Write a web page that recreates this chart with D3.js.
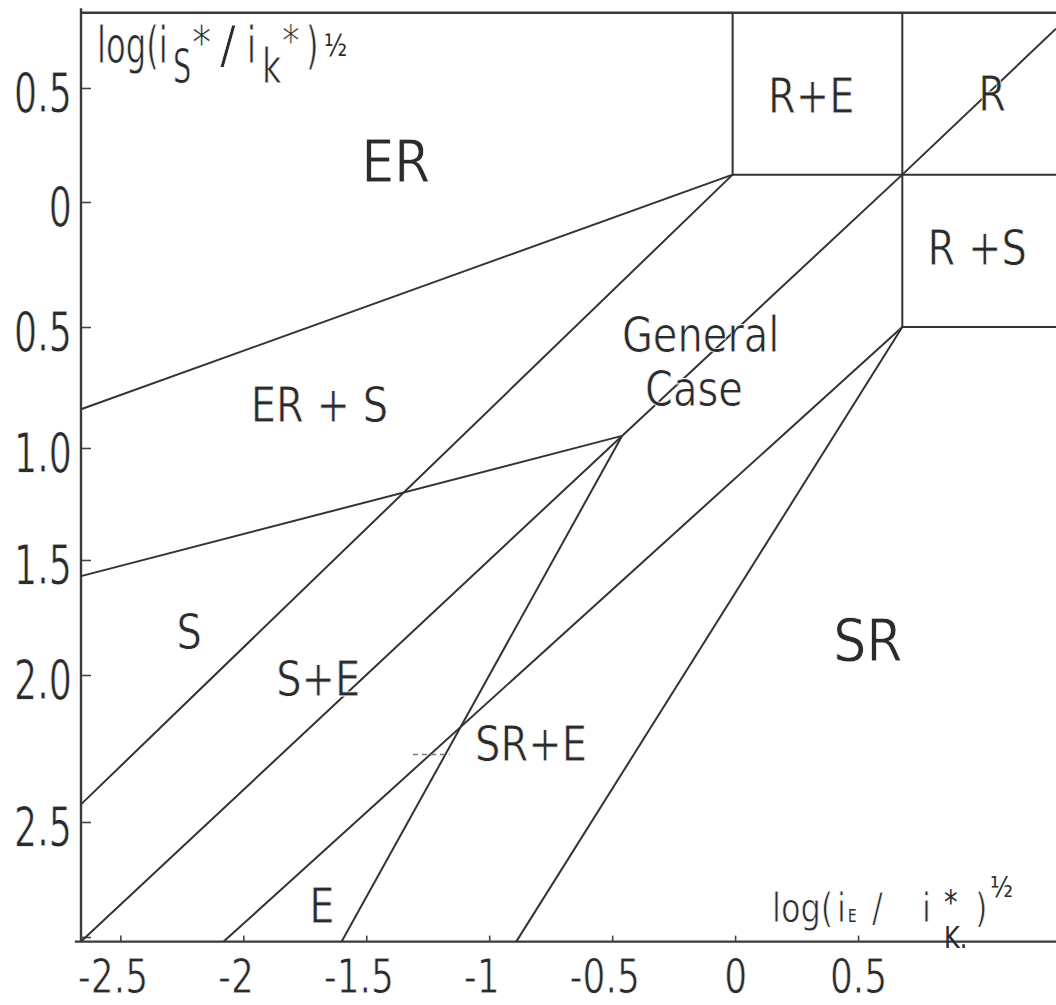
<!DOCTYPE html>
<html>
<head>
<meta charset="utf-8">
<script src="https://cdn.jsdelivr.net/npm/d3@7"></script>
<style>
  body { margin: 0; background: #fff; }
  svg { display: block; }
  text { font-family: "DejaVu Sans", sans-serif; fill: #2b2b2b; }
  text.thin { stroke: #fff; stroke-width: 0.8px; }
</style>
</head>
<body>
<div id="holder"></div>
<script>
// tick values as printed on the scanned diagram (y minus signs were lost in the print)
var xTicks = [-2.5, -2, -1.5, -1, -0.5, 0, 0.5];
var xTickLabels = ['-2.5', '-2', '-1.5', '-1', '-0.5', '0', '0.5'];
var yTicks = [0.5, 0, -0.5, -1, -1.5, -2, -2.5, -3];
var yTickLabels = ['0.5', '0', '0.5', '1.0', '1.5', '2.0', '2.5', ''];

var xMin = -2.66, xMax = 1.305, yTop = 0.83, yBottom = -3.02;

// region boundaries as [log(iE/ik), log(iS/ik)] points
var lineER = [[-2.66, -0.84], [-0.01, 0.12]];
var lineERS = [[-2.66, -1.57], [-0.46, -0.95]];
var lineSE = [[-2.66, -2.44], [-0.01, 0.12]];
var lineDiag = [[-2.66, -3.02], [-0.46, -0.95], [0.68, 0.12], [1.305, 0.76]];
var lineSRE = [[-2.08, -3.02], [0.68, -0.5]];
var lineE = [[-1.6, -3.02], [-0.46, -0.95]];
var lineSR = [[-0.89, -3.02], [0.68, -0.5]];
var boxRE = [[-0.01, 0.83], [-0.01, 0.12], [1.305, 0.12]];
var boxRS = [[0.68, 0.83], [0.68, -0.5], [1.305, -0.5]];
// small stray mark left of SR+E
var strayMark = [[-1.31, -2.27], [-1.16, -2.27]];

var regionNames = ['ER', 'R+E', 'R', 'R +S', 'General', 'Case', 'ER + S', 'S', 'S+E', 'SR+E', 'SR', 'E'];
var regionX = [-1.38, 0.31, 1.045, 0.985, -0.14, -0.167, -1.69, -2.22, -1.695, -0.83, 0.54, -1.68];
var regionY = [0.18, 0.47, 0.48, -0.18, -0.53, -0.75, -0.82, -1.81, -2.01, -2.23, -1.85, -2.86];
var regionBig = ['ER', 'SR'];

var svg = d3.select('#holder').append('svg').attr('width', 1056).attr('height', 1005);

var x = d3.scaleLinear().domain([xMin, xMax]).range([81, 1056]);
// the hand-drawn y axis has uneven tick spacing, so map through every tick
var y = d3.scaleLinear().domain(yTicks).range([88, 202, 327, 448, 560, 675, 822, 937]);

var line = d3.line().x(function(d) { return x(d[0]); }).y(function(d) { return y(d[1]); });

function label(g, str, px, py, size, sx, anchor) {
  return g.append('text')
    .attr('class', size >= 36 ? 'thin' : null)
    .attr('transform', 'translate(' + px + ',' + py + ') scale(' + sx + ',1)')
    .attr('text-anchor', anchor || 'start')
    .style('font-size', size + 'px')
    .text(str);
}

// frame: y axis, x axis, top edge
var frame = [
  [[xMin, 0.85], [xMin, yBottom]],
  [[xMin - 0.025, yBottom], [xMax, yBottom]],
  [[xMin, yTop], [xMax, yTop]]
];
svg.selectAll('path.frame').data(frame).enter().append('path')
  .attr('class', 'frame')
  .attr('d', line)
  .style('fill', 'none').style('stroke', '#3a3a3a').style('stroke-width', 2.4);

var xAxis = svg.append('g')
  .attr('transform', 'translate(0,' + y(yBottom) + ')')
  .call(d3.axisBottom(x).tickValues(xTicks)
    .tickFormat(function(d, i) { return xTickLabels[i]; })
    .tickSize(-6).tickPadding(17));
xAxis.select('.domain').remove();
xAxis.selectAll('.tick line').style('stroke', '#444').style('stroke-width', 1.6);
xAxis.selectAll('.tick text')
  .attr('class', 'thin')
  .attr('transform', 'scale(0.75,1)')
  .attr('dx', function(d) { return d < 0 ? '-0.22em' : 0; })
  .style('font-size', '48px').style('font-family', '"DejaVu Sans", sans-serif')
  .attr('fill', '#2b2b2b');

var yAxis = svg.append('g')
  .attr('transform', 'translate(' + x(xMin) + ',0)')
  .call(d3.axisLeft(y).tickValues(yTicks)
    .tickFormat(function(d, i) { return yTickLabels[i]; })
    .tickSize(-10).tickPadding(14));
yAxis.select('.domain').remove();
yAxis.selectAll('.tick line').style('stroke', '#444').style('stroke-width', 1.6);
yAxis.selectAll('.tick text')
  .attr('class', 'thin')
  .attr('transform', 'scale(0.66,1)')
  .attr('dy', '0.42em')
  .style('font-size', '55px').style('font-family', '"DejaVu Sans", sans-serif')
  .attr('fill', '#2b2b2b');

// boundaries
var bounds = [lineER, lineERS, lineSE, lineDiag, lineSRE, lineE, lineSR, boxRE, boxRS];
svg.selectAll('path.bound').data(bounds).enter().append('path')
  .attr('class', 'bound')
  .attr('d', line)
  .style('fill', 'none').style('stroke', '#333').style('stroke-width', 2);

svg.append('path').attr('d', line(strayMark))
  .style('fill', 'none').style('stroke', '#777').style('stroke-width', 1.5)
  .style('stroke-dasharray', '5,4');

// region names
var names = svg.append('g');
regionNames.forEach(function(n, i) {
  var big = regionBig.indexOf(n) >= 0;
  label(names, n, x(regionX[i]), y(regionY[i]), big ? 58 : 50, big ? 0.9 : 0.8, 'middle')
    .attr('dy', '0.36em');
});

// axis titles
var yt = svg.append('g');
label(yt, 'log(i', 97, 63, 52, 0.62);
label(yt, 'S', 173, 83, 48, 0.6);
label(yt, '*', 192, 60, 48, 0.8);
label(yt, '/', 220, 63, 52, 0.9);
label(yt, 'i', 247, 63, 52, 0.62);
label(yt, 'k', 262, 83, 48, 0.7);
label(yt, '*', 282, 57, 44, 0.8);
label(yt, ')', 306, 63, 52, 0.62);
label(yt, '\u00bd', 324, 56, 30, 0.8);

var xt = svg.append('g');
label(xt, 'log(', 772, 922, 40, 0.8);
label(xt, 'i', 837, 922, 40, 0.8);
label(xt, 'E', 848, 922, 17, 0.8);
label(xt, '/', 872, 922, 40, 0.8);
label(xt, 'i', 922, 922, 40, 0.8);
label(xt, '*', 944, 914, 34, 0.8);
label(xt, 'K.', 944, 948, 30, 0.8);
label(xt, ')', 975, 922, 40, 0.8);
label(xt, '\u00bd', 990, 897, 28, 0.85);
</script>
</body>
</html>
